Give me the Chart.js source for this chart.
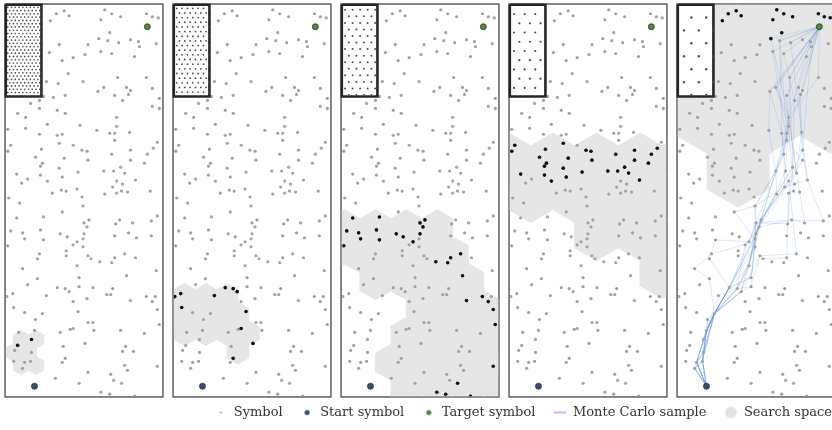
<!DOCTYPE html>
<html>
<head>
<meta charset="utf-8">
<script src="https://cdn.jsdelivr.net/npm/chart.js@4.4.1/dist/chart.umd.min.js"></script>
<style>
  html, body { margin: 0; padding: 0; background: #fff; overflow: hidden; width: 832px; height: 430px; }
  #wrap { position: relative; width: 832px; height: 430px; overflow: hidden; }
  #wrap canvas { position: absolute; }
</style>
</head>
<body>
<div id="wrap"></div>
<script>
// ---- data (symbol-space coordinates, y grows downward) ----
const symbols = [
  [56,13],[64,10],[69,15],[50,20],[105,9],[112,13],[121,16],[101,19],[147,13],[153,16],[159,17],[110,32],[99,38],
  [108,40],[119,42],[131,39],[139,41],[140,46],[157,43],[59,44],[88,44],[49,52],[101,51],[112,53],[135,56],[85,54],
  [73,57],[62,60],[68,73],[118,77],[147,77],[46,81],[58,83],[83,81],[104,87],[98,91],[127,87],[131,90],[129,94],
  [153,88],[115,95],[123,100],[160,98],[53,97],[65,95],[43,96],[39,100],[30,103],[39,108],[57,110],[65,113],[17,113],
  [25,117],[117,117],[153,106],[160,108],[47,124],[80,125],[117,126],[25,128],[7,129],[97,130],[130,132],[110,133],
  [115,133],[39,134],[57,135],[62,134],[115,140],[59,143],[73,145],[10,145],[158,142],[154,148],[41,149],[7,151],
  [82,150],[87,151],[131,150],[112,154],[148,154],[35,157],[64,158],[88,160],[131,160],[42,163],[40,166],[145,163],
  [59,168],[121,167],[78,172],[104,171],[114,171],[125,173],[16,174],[40,175],[62,177],[27,179],[47,181],[117,181],
  [136,180],[21,183],[123,184],[113,187],[77,189],[61,190],[66,191],[122,191],[128,192],[117,193],[151,191],[52,193],
  [105,194],[82,197],[8,198],
  [19,203],[83,206],[62,212],[16,218],[43,217],[89,220],[84,223],[87,227],[120,220],[116,224],[133,223],[152,221],
  [158,216],[10,231],[22,233],[40,230],[60,234],[67,237],[84,234],[83,239],[115,236],[129,233],[137,238],[152,236],
  [24,239],[43,240],[77,242],[73,245],[83,247],[7,246],[66,251],[66,256],[39,254],[37,259],[88,256],[91,259],[100,262],
  [125,254],[136,258],[115,258],[112,263],[77,266],[22,269],[157,271],[127,276],[37,279],[79,278],[27,285],[79,287],
  [57,288],[65,289],[69,292],[93,288],[113,289],[12,294],[6,297],[46,296],[107,295],[111,295],[147,297],[156,297],
  [87,299],[131,301],[73,302],[153,302],[13,308],[158,310],[24,313],[42,314],[78,312],[35,320],[88,323],[93,323],
  [160,325],[34,331],[60,333],[70,330],[73,329],[94,331],[121,331],[145,334],[18,333],[31,340],[17,346],[85,344],
  [126,347],[63,347],[14,351],[31,353],[123,352],[134,352],[13,362],[24,363],[30,362],[65,359],[62,363],[125,366],
  [22,369],[128,371],[158,367],[88,373],[111,375],[55,379],[114,381],[122,384],[79,384],[101,393],[110,395],[135,397]
];

const startSymbol = [34, 387];
const targetSymbol = [148, 26];

// symbols on the border of the current search space, one list per step
const frontierStep1 = [[31,340],[17,346]];
const frontierStep2 = [[12,294],[6,297],[13,308],[46,296],[57,288],[65,289],[69,292],[78,312],[73,329],[85,344],[65,359]];
const frontierStep3 = [[16,218],[43,217],[10,231],[22,233],[24,239],[40,230],[43,240],[60,234],[67,237],[84,223],
  [89,220],[87,227],[84,234],[77,242],[7,246],[100,262],[112,263],[115,258],[125,254],[127,276],[131,301],[147,297],
  [153,302],[158,310],[160,325],[158,367],[122,384],[101,393],[110,395],[135,397]];
const frontierStep4 = [[10,145],[7,151],[41,149],[59,143],[35,157],[42,163],[40,166],[64,158],[59,168],[16,174],
  [40,175],[47,181],[62,177],[78,172],[82,150],[87,151],[88,160],[104,171],[112,154],[114,171],[121,167],[125,173],
  [131,150],[131,160],[136,180],[145,163],[148,154],[154,148]];
const frontierStep5 = [[56,13],[64,10],[69,15],[50,20],[105,9],[112,13],[121,16],[101,19],[147,13],[153,16],[159,17],[110,32],[99,38]];

// hexagonal search-space grid: cell radius, origin of cell (0,0), and the selected cells [col,row]
const hexRadius = [8.8, 12.4, 18, 25.5, 36];
const hexOrigin = [[20.5,340],[16,296.4],[7.9,228],[4.2,158.5],[34.7,9]];
const cellsStep1 = [[0,0],[1,0],[-1,1],[0,1],[0,2],[1,2]];
const cellsStep2 = [[0,0],[1,0],[2,0],[-1,1],[0,1],[1,1],[2,1],[0,2],[1,2],[2,2],[3,2],[2,3]];
const cellsStep3 = [[0,0],[1,0],[2,0],[3,0],
  [-1,1],[0,1],[1,1],[2,1],[3,1],
  [1,2],[2,2],[3,2],[4,2],
  [2,3],[3,3],[4,3],
  [2,4],[3,4],[4,4],[5,4],
  [1,5],[2,5],[3,5],[4,5],
  [2,6],[3,6],[4,6],[5,6]];
const cellsStep4 = [[0,0],[1,0],[2,0],[3,0],[4,0],
  [-1,1],[0,1],[1,1],[2,1],[3,1],
  [2,2],[3,2],[4,2],
  [3,3]];
const cellsStep5 = [[-1,0],[0,0],[1,0],[2,0],
  [-1,1],[0,1],[1,1],[2,1],
  [-1,2],[0,2],[1,2],[2,2],
  [0,3]];

// resolution lattice shown in the corner box: spacing and first lattice point
const insetBox = [5, 41, 4, 96];
const latticeStep = [3.8, 5.4, 7.6, 10.7, 15];
const latticeOrigin = [[7,6.5],[8,7.5],[8.3,9],[9.3,13.3],[18.7,16.7]];

// Monte Carlo samples: symbol sequences from start to target
const mcPaths = [
  [[34,387],[24,363],[31,353],[34,331],[42,314],[57,288],[79,278],[83,247],[84,234],[89,220],[104,171],[115,140],[117,117],[118,77],[148,26]],
  [[34,387],[22,369],[30,362],[35,320],[42,314],[65,289],[77,266],[84,223],[112,154],[117,126],[104,87],[148,26]],
  [[34,387],[24,363],[34,331],[42,314],[69,292],[79,287],[83,239],[87,227],[114,171],[110,133],[98,91],[148,26]],
  [[34,387],[30,362],[31,340],[42,314],[57,288],[77,242],[84,223],[89,220],[121,167],[123,100],[112,53],[148,26]],
  [[34,387],[24,363],[31,353],[42,314],[69,292],[88,256],[125,254],[117,181],[131,160],[115,140],[101,51],[148,26]],
  [[34,387],[30,362],[34,331],[42,314],[57,288],[83,239],[84,223],[120,220],[133,223],[125,173],[130,132],[119,42],[148,26]],
  [[34,387],[24,363],[31,340],[42,314],[65,289],[83,247],[89,220],[104,171],[112,154],[110,133],[108,40],[148,26]],
  [[34,387],[22,369],[30,362],[34,331],[42,314],[57,288],[84,234],[87,227],[125,173],[117,117],[99,38],[148,26]],
  [[34,387],[30,362],[42,314],[57,288],[37,259],[39,254],[73,245],[84,234],[89,220],[117,181],[131,150],[127,87],[148,26]],
  [[34,387],[24,363],[34,331],[46,296],[65,289],[77,266],[83,239],[83,206],[104,171],[117,117],[147,77],[148,26]],
  [[34,387],[22,369],[31,353],[42,314],[37,279],[22,269],[39,254],[43,240],[77,242],[84,223],[116,224],[121,167],[118,77],[148,26]],
  [[34,387],[30,362],[34,331],[42,314],[65,289],[79,287],[88,256],[91,259],[115,258],[116,224],[117,193],[122,191],[117,126],[131,90],[148,26]],
  [[34,387],[24,363],[31,340],[42,314],[57,288],[77,266],[83,239],[89,220],[113,187],[123,184],[136,180],[131,150],[140,46],[148,26]],
  [[34,387],[22,369],[30,362],[42,314],[69,292],[77,266],[84,234],[87,227],[105,194],[104,171],[117,126],[115,95],[148,26]],
  [[34,387],[24,363],[34,331],[42,314],[57,288],[83,247],[84,223],[83,206],[113,187],[112,154],[115,133],[108,40],[148,26]],
  [[34,387],[30,362],[31,353],[42,314],[65,289],[73,245],[87,227],[120,220],[152,221],[136,180],[130,132],[129,94],[148,26]],
  [[34,387],[22,369],[34,331],[42,314],[57,288],[79,278],[84,234],[89,220],[117,181],[114,171],[117,117],[104,87],[148,26]],
  [[34,387],[24,363],[31,353],[42,314],[69,292],[83,239],[62,212],[83,206],[104,171],[97,130],[98,91],[148,26]],
  [[34,387],[30,362],[34,331],[35,320],[42,314],[57,288],[84,234],[89,220],[121,167],[125,173],[117,117],[139,41],[148,26]]
];

const legendLabels = ['Symbol', 'Start symbol', 'Target symbol', 'Monte Carlo sample', 'Search space'];

// ---- drawing ----
const frontier = [frontierStep1, frontierStep2, frontierStep3, frontierStep4, frontierStep5];
const hexCells = [cellsStep1, cellsStep2, cellsStep3, cellsStep4, cellsStep5];
const panelLefts = [5, 173, 341, 509, 677];
const PAD = 4;
const latticeDotRadius = [0.85, 0.9, 1.0, 1.1, 1.2];
const SPACE_FILL = '#e6e6e6';

const toXY = arr => arr.map(p => ({x: p[0], y: p[1]}));

function hexCenter(panel, col, row) {
  const r = hexRadius[panel], w = Math.sqrt(3) * r;
  const [x0, y0] = hexOrigin[panel];
  const odd = ((row % 2) + 2) % 2 === 1;
  return [x0 + col * w + (odd ? w / 2 : 0), y0 + row * 1.5 * r];
}

function hexPolygon(cx, cy, r) {
  const pts = [];
  for (let i = 0; i <= 6; i++) {
    const a = Math.PI / 180 * (90 + 60 * i);
    pts.push({x: cx + r * Math.cos(a), y: cy + r * Math.sin(a)});
  }
  return pts;
}

function latticePoints(panel) {
  const s = latticeStep[panel], h = s * Math.sqrt(3) / 2;
  const [x0, y0] = latticeOrigin[panel];
  const [bx0, bx1, by0, by1] = insetBox;
  const pts = [];
  for (let k = -30; k <= 60; k++) {
    const y = y0 + k * h;
    if (y < by0 + 0.8 || y > by1 + 0.2) continue;
    const off = (((k % 2) + 2) % 2) ? s / 2 : 0;
    for (let n = -20; n <= 30; n++) {
      const x = x0 + off + n * s;
      if (x < bx0 + 0.8 || x > bx1 + 0.2) continue;
      pts.push({x, y});
    }
  }
  return pts;
}

const panelFrame = {
  id: 'panelFrame',
  beforeDatasetsDraw(chart) {
    const {ctx, chartArea: a} = chart;
    ctx.save();
    ctx.strokeStyle = '#5e5e5e';
    ctx.lineWidth = 1.5;
    ctx.strokeRect(a.left - 0.75, a.top - 0.75, a.right - a.left + 1.5, a.bottom - a.top + 1.5);
    ctx.restore();
  }
};

function panelDatasets(i) {
  const ds = [];
  hexCells[i].forEach(([c, r]) => {
    const [cx, cy] = hexCenter(i, c, r);
    ds.push({type: 'line', data: hexPolygon(cx, cy, hexRadius[i]), fill: 'shape',
      backgroundColor: SPACE_FILL, borderColor: SPACE_FILL, borderWidth: 1.2,
      pointRadius: 0, tension: 0, order: 60});
  });
  if (i === 4) {
    mcPaths.forEach(p => ds.push({type: 'line', data: toXY(p), fill: false,
      borderColor: 'rgba(80,140,210,0.24)', borderWidth: 0.8, pointRadius: 0, tension: 0, order: 50}));
  }
  ds.push({type: 'scatter', data: toXY(symbols), pointRadius: 1.6,
    backgroundColor: '#a2a2a2', borderWidth: 0, order: 40});
  const [bx0, bx1, by0, by1] = insetBox;
  ds.push({type: 'line', data: [{x: bx0, y: by0}, {x: bx1, y: by0}, {x: bx1, y: by1}, {x: bx0, y: by1}, {x: bx0, y: by0}],
    fill: 'shape', backgroundColor: '#ffffff', borderColor: '#262626', borderWidth: 2.6,
    pointRadius: 0, tension: 0, clip: 4, order: 30});
  ds.push({type: 'scatter', data: latticePoints(i), pointRadius: latticeDotRadius[i],
    backgroundColor: '#4e4e4e', borderWidth: 0, order: 25});
  ds.push({type: 'scatter', data: toXY(frontier[i]), pointRadius: 1.8,
    backgroundColor: '#111111', borderWidth: 0, order: 20});
  ds.push({type: 'scatter', data: toXY([startSymbol]), pointRadius: 3,
    backgroundColor: '#3b4e70', borderColor: '#1f2b42', borderWidth: 0.8, order: 10});
  ds.push({type: 'scatter', data: toXY([targetSymbol]), pointRadius: 3,
    backgroundColor: '#4f8a3c', borderColor: '#1f3a1a', borderWidth: 0.8, order: 10});
  return ds;
}

const wrap = document.getElementById('wrap');

function makeCanvas(left, top, w, h) {
  const c = document.createElement('canvas');
  c.width = w; c.height = h;
  c.style.left = left + 'px'; c.style.top = top + 'px';
  c.style.width = w + 'px'; c.style.height = h + 'px';
  wrap.appendChild(c);
  return c;
}

// legend markers
function marker(w, h, draw) {
  const c = document.createElement('canvas');
  c.width = w; c.height = h;
  draw(c.getContext('2d'), w, h);
  return c;
}
function dot(r, color) {
  const s = Math.ceil(r * 2 + 2);
  return marker(s, s, (ctx) => { ctx.fillStyle = color; ctx.beginPath(); ctx.arc(s / 2, s / 2, r, 0, Math.PI * 2); ctx.fill(); });
}
const legendMarkers = [
  dot(1.2, '#b3b3b3'),
  dot(2.6, '#3b4e70'),
  dot(2.6, '#4f8a3c'),
  marker(14, 4, (ctx) => { ctx.strokeStyle = '#7fa6d8'; ctx.lineWidth = 1.3; ctx.beginPath(); ctx.moveTo(1, 2); ctx.lineTo(13, 2); ctx.stroke(); }),
  dot(5.8, '#e2e2e2')
];

const legendCanvas = makeCanvas(0, 388, 850, 90);
new Chart(legendCanvas, {
  type: 'scatter',
  data: {datasets: legendLabels.map(l => ({label: l, data: []}))},
  options: {
    responsive: false, animation: false, events: [], devicePixelRatio: 1,
    layout: {padding: 0},
    scales: {x: {display: false}, y: {display: false}},
    plugins: {
      tooltip: {enabled: false},
      legend: {
        display: true, position: 'top', align: 'end',
        labels: {
          usePointStyle: true, padding: 18, color: '#333',
          font: {family: 'DejaVu Serif', size: 13},
          generateLabels: () => legendLabels.map((t, i) => ({
            text: t, pointStyle: legendMarkers[i], fillStyle: 'rgba(0,0,0,0)',
            strokeStyle: 'rgba(0,0,0,0)', lineWidth: 0, hidden: false, datasetIndex: i, fontColor: '#333'
          }))
        }
      }
    }
  }
});

panelLefts.forEach((left, i) => {
  const cv = makeCanvas(left - PAD, 0, 158 + 2 * PAD, 393 + 2 * PAD);
  new Chart(cv, {
    type: 'scatter',
    data: {datasets: panelDatasets(i)},
    options: {
      responsive: false, animation: false, events: [], devicePixelRatio: 1,
      layout: {padding: PAD},
      plugins: {legend: {display: false}, tooltip: {enabled: false}},
      scales: {
        x: {type: 'linear', min: 5, max: 163, display: false},
        y: {type: 'linear', min: 4, max: 397, reverse: true, display: false}
      }
    },
    plugins: [panelFrame]
  });
});
</script>
</body>
</html>
